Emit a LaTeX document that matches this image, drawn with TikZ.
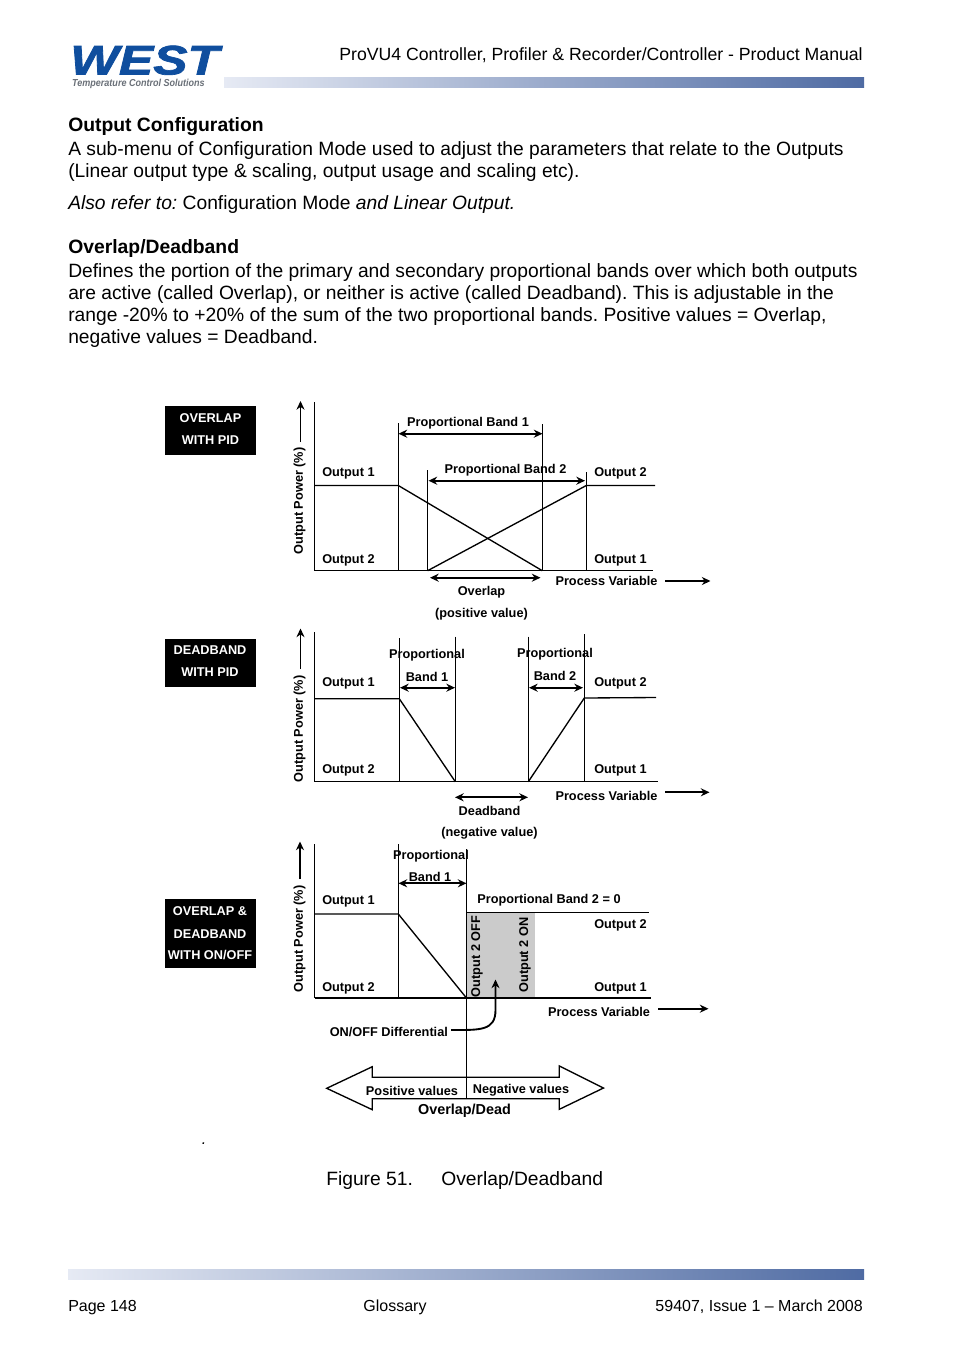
\documentclass[tikz,border=0pt]{standalone}
\usepackage{fontspec}
\setmainfont{Liberation Sans}
\newfontfamily\logofont[FakeBold=1.6]{Liberation Sans}
\usetikzlibrary{arrows.meta}
\definecolor{westblue}{HTML}{0F4E9E}
\definecolor{westgrey}{HTML}{6A7078}
\definecolor{barlight}{HTML}{E6EAF4}
\definecolor{bardark}{HTML}{4F6BA3}
\definecolor{bandgrey}{HTML}{CBCBCB}
\tikzset{
  x=.75pt,y=-.75pt,
  thinline/.style={line width=.8pt,black},
  levelline/.style={line width=1pt,black},
  dimarrow/.style={line width=1.4pt,black,{Stealth[length=6.5pt,width=6pt]}-{Stealth[length=6.5pt,width=6pt]}},
  axisarrow/.style={line width=1.4pt,black,-{Stealth[length=6.5pt,width=6pt]}},
  lblbase/.style={font=\fontsize{9.55pt}{11pt}\selectfont\bfseries,inner sep=0pt,text=black},
  lbl/.style={lblbase,yshift=-.75pt},
  lblw/.style={lbl,anchor=west},
  boxtxt/.style={lbl,text=white},
  ylbl/.style={lblbase,rotate=90},
  body/.style={font=\fontsize{14.43pt}{18pt}\selectfont,inner sep=0pt,anchor=base west},
  bodyb/.style={body,font=\fontsize{14.5pt}{18pt}\selectfont\bfseries},
  foot/.style={font=\fontsize{12pt}{14pt}\selectfont,inner sep=0pt,anchor=base},
  blackbox/.style={fill=black,draw=none},
  gradbar/.style={left color=barlight,right color=bardark,draw=none}
}
\frenchspacing
\begin{document}
\begin{tikzpicture}
\useasboundingbox (0,0) rectangle (954,1350);
\fill[white] (0,0) rectangle (954,1350);
% header
\node[inner sep=0pt,anchor=base west,xscale=1.245,text=westblue,font=\logofont\fontsize{31pt}{32pt}\selectfont\bfseries\itshape] (logo) at (70,74.5) {WEST};
\node[inner sep=0pt,anchor=base west,xscale=.89,text=westgrey,font=\fontsize{7.6pt}{9pt}\selectfont\bfseries\itshape] (logosub) at (72,86.5) {Temperature Control Solutions};
\node[inner sep=0pt,anchor=base east,font=\fontsize{13.25pt}{16pt}\selectfont] (title) at (863,60) {ProVU4 Controller, Profiler \& Recorder/Controller - Product Manual};
\fill[gradbar] (224,77) rectangle (864,87);
% body
\node[bodyb] (b1) at (68,131) {Output Configuration};
\node[body] (b2) at (68,155) {A sub-menu of Configuration Mode used to adjust the parameters that relate to the Outputs};
\node[body] (b3) at (68,177) {(Linear output type \& scaling, output usage and scaling etc).};
\node[body] (b4) at (68,209) {\textit{Also refer to:} Configuration Mode \textit{and Linear Output.}};
\node[bodyb] (b5) at (68,253) {Overlap/Deadband};
\node[body] (b6) at (68,277) {Defines the portion of the primary and secondary proportional bands over which both outputs};
\node[body] (b7) at (68,299) {are active (called Overlap), or neither is active (called Deadband). This is adjustable in the};
\node[body] (b8) at (68,321) {range -20\% to +20\% of the sum of the two proportional bands. Positive values = Overlap,};
\node[body] (b9) at (68,343) {negative values = Deadband.};
% mode boxes
\fill[blackbox] (165,406) rectangle (256,455);
\node[boxtxt] (t1a) at (210.5,417) {OVERLAP};
\node[boxtxt] (t1b) at (210.5,439.5) {WITH PID};
\fill[blackbox] (165,639) rectangle (256,687);
\node[boxtxt] (t2a) at (210,649) {DEADBAND};
\node[boxtxt] (t2b) at (210,671.5) {WITH PID};
\fill[blackbox] (165,899) rectangle (256,968);
\node[boxtxt] (t3a) at (210,910.5) {OVERLAP \&};
\node[boxtxt] (t3b) at (210,933.5) {DEADBAND};
\node[boxtxt] (t3c) at (210,954) {WITH ON/OFF};
% diagram 1
\draw[thinline] (314.5,402) -- (314.5,570.7);
\draw[levelline] (314.5,570.7) -- (653,570.7);
\draw[levelline] (314.5,485.5) -- (398.3,485.5) -- (542.3,570.7);
\draw[levelline] (427.6,570.7) -- (586.3,485.5) -- (655,485.5);
\draw[thinline] (398.3,423) -- (398.3,570.7);
\draw[thinline] (427.6,470) -- (427.6,570.7);
\draw[thinline] (542.3,424) -- (542.3,570.7);
\draw[thinline] (586.3,472) -- (586.3,570.7);
\draw[dimarrow] (398.5,433.7) -- (542.5,433.7);
\draw[dimarrow] (428.5,480.7) -- (585,480.7);
\draw[dimarrow] (430,577.7) -- (540.5,577.7);
\draw[axisarrow] (665,581) -- (710.5,581);
\draw[axisarrow] (300.5,442) -- (300.5,401);
\node[lbl] (a1) at (468,422) {Proportional Band 1};
\node[lbl] (a2) at (505.5,469) {Proportional Band 2};
\node[lblw] (a3) at (322,472) {Output 1};
\node[lblw] (a4) at (322,559) {Output 2};
\node[lblw] (a5) at (594,472) {Output 2};
\node[lblw] (a6) at (594,559) {Output 1};
\node[lbl] (a7) at (606.5,580) {Process Variable};
\node[lbl] (a8) at (481.5,591) {Overlap};
\node[lbl] (a9) at (481.5,613) {(positive value)};
\node[ylbl] (a10) at (299.5,501) {Output Power (\%)};
% diagram 2
\draw[thinline] (314.5,632) -- (314.5,781.7);
\draw[levelline] (314.5,781.7) -- (658,781.7);
\draw[levelline] (314.5,698.7) -- (399.3,698.7) -- (455.3,781.7);
\draw[levelline] (528.3,781.7) -- (584.3,698) -- (656,697.5);
\draw[thinline] (399.3,638) -- (399.3,781.7);
\draw[thinline] (455.3,636.7) -- (455.3,781.7);
\draw[thinline] (528.3,636.7) -- (528.3,781.7);
\draw[thinline] (584.3,634) -- (584.3,781.7);
\draw[dimarrow] (400,687.7) -- (455,687.7);
\draw[dimarrow] (529,687.7) -- (583,687.7);
\draw[dimarrow] (455,797.3) -- (528,797.3);
\draw[axisarrow] (665,792.3) -- (709.5,792.3);
\draw[axisarrow] (300.5,669) -- (300.5,628.5);
\node[lbl] (c1) at (427,654) {Proportional};
\node[lbl] (c2) at (427,675.5) {Band 1};
\node[lbl] (c3) at (555,653) {Proportional};
\node[lbl] (c4) at (555,675) {Band 2};
\node[lblw] (c5) at (322,682) {Output 1};
\node[lblw] (c6) at (322,769) {Output 2};
\node[lblw] (c7) at (594,682) {Output 2};
\node[lblw] (c8) at (594,769) {Output 1};
\node[lbl] (c9) at (606.5,795) {Process Variable};
\node[lbl] (c10) at (489.5,810) {Deadband};
\node[lbl] (c11) at (489.5,832) {(negative value)};
\node[ylbl] (c12) at (299.5,729) {Output Power (\%)};
% diagram 3
\fill[bandgrey] (467,912.3) rectangle (535,998);
\draw[thinline] (314.5,844) -- (314.5,998);
\draw[levelline] (314.5,998) -- (650.7,998);
\draw[levelline] (314.5,914) -- (398.3,914) -- (466.5,998);
\draw[levelline] (466.5,912.3) -- (649,912.3);
\draw[thinline] (398.3,844) -- (398.3,998);
\draw[thinline] (466.5,849) -- (466.5,1099);
\draw[dimarrow] (398.5,883.3) -- (466.5,883.3);
\draw[axisarrow] (658,1008.7) -- (708.5,1008.7);
\draw[axisarrow] (300,879) -- (300,841.5);
\draw[axisarrow] (451,1030) .. controls (480,1030) and (495.5,1031) .. (495.5,1010) -- (495.5,979.5);
\node[lbl] (d1) at (431,855) {Proportional};
\node[lbl] (d2) at (430,875.5) {Band 1};
\node[lbl] (d3) at (549,899) {Proportional Band 2 = 0};
\node[lblw] (d4) at (322,900) {Output 1};
\node[lblw] (d5) at (322,987) {Output 2};
\node[lblw] (d6) at (594,924) {Output 2};
\node[lblw] (d7) at (594,987) {Output 1};
\node[lbl] (d8) at (599,1011) {Process Variable};
\node[ylbl] (d9) at (299.5,939) {Output Power (\%)};
\node[ylbl] (d10) at (477,956.5) {Output 2 OFF};
\node[ylbl] (d11) at (525,955) {Output 2 ON};
\node[lblw] (d12) at (329.5,1031) {ON/OFF Differential};
% block arrow
\draw[thinline,line width=1pt,line join=miter] (326.7,1088.3) -- (372.3,1066.7) -- (372.3,1077.3) -- (559.3,1077.3) -- (559.3,1066) -- (603.5,1088) -- (559.3,1109.3) -- (559.3,1098.7) -- (372.3,1098.7) -- (372.3,1109.7) -- cycle;
\node[lbl] (e1) at (412,1089.5) {Positive values};
\node[lbl] (e2) at (521,1089.5) {Negative values};
\node[lbl,font=\fontsize{10.8pt}{12pt}\selectfont\bfseries] (e3) at (464.5,1109.5) {Overlap/Dead};
\node[inner sep=0pt,font=\fontsize{12pt}{14pt}\selectfont\itshape,anchor=base] (dot) at (204,1144) {.};
% caption
\node[inner sep=0pt,anchor=base west,font=\fontsize{14.45pt}{16pt}\selectfont] (f1) at (326,1185) {Figure 51.};
\node[inner sep=0pt,anchor=base west,font=\fontsize{14.45pt}{16pt}\selectfont] (f2) at (441,1185) {Overlap/Deadband};
% footer
\fill[gradbar] (68,1269) rectangle (864,1279);
\node[foot,anchor=base west] (g1) at (68,1311) {Page 148};
\node[foot] (g2) at (395,1311) {Glossary};
\node[foot,anchor=base east] (g3) at (863,1311) {59407, Issue 1 – March 2008};
\end{tikzpicture}
\end{document}
